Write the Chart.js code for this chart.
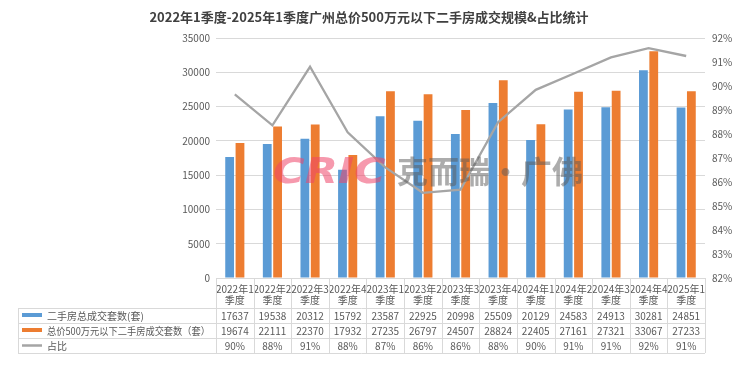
<!DOCTYPE html>
<html>
<head>
<meta charset="utf-8">
<script src="https://cdn.jsdelivr.net/npm/chart.js@4.4.0/dist/chart.umd.min.js"></script>
<style>
	html, body { margin: 0; padding: 0; background: #fff; }
</style>
</head>
<body>
<canvas id="salesChart" width="740" height="366"></canvas>
<script>
const categories = [
	"2022年1季度", "2022年2季度", "2022年3季度", "2022年4季度",
	"2023年1季度", "2023年2季度", "2023年3季度", "2023年4季度",
	"2024年1季度", "2024年2季度", "2024年3季度", "2024年4季度",
	"2025年1季度",
];
const totalDeals = [17637, 19538, 20312, 15792, 23587, 22925, 20998, 25509, 20129, 24583, 24913, 30281, 24851];
const under500Deals = [19674, 22111, 22370, 17932, 27235, 26797, 24507, 28824, 22405, 27161, 27321, 33067, 27233];
const shareRatio = [89.65, 88.36, 90.8, 88.07, 86.61, 85.55, 85.68, 88.49, 89.84, 90.51, 91.19, 91.58, 91.25];
const seriesNames = ["二手房总成交套数(套)", "总价500万元以下二手房成交套数（套）", "占比"];

const textColor = "#595959";
const lineColor = "#D9D9D9";
const fontFamily = '"Noto Sans CJK SC", "Noto Sans", sans-serif';

const tablePlugin = {
	id: "dataTable",
	afterDatasetsDraw(chart) {
		// watermark
		const ctx = chart.ctx;
		ctx.save();
		ctx.translate(273, 183);
		ctx.scale(1.2, 1);
		ctx.font = 'italic bold 36px "DejaVu Sans", sans-serif';
		ctx.fillStyle = "rgba(238, 70, 105, 0.55)";
		ctx.textBaseline = "alphabetic";
		ctx.fillText("CRIC", 0, 0);
		ctx.restore();
		ctx.save();
		ctx.font = "bold 31px " + fontFamily;
		ctx.fillStyle = "rgba(90, 90, 90, 0.5)";
		ctx.textBaseline = "alphabetic";
		ctx.fillText("克而瑞·广佛", 397, 183);
		ctx.restore();
	},
	afterDraw(chart) {
		const ctx = chart.ctx;
		const area = chart.chartArea;
		const x = chart.scales.x;
		const colW = (area.right - area.left) / categories.length;
		const rows = [308, 323, 338, 353];
		const legendLeft = 18;

		ctx.save();
		// title
		ctx.fillStyle = "#404040";
		ctx.font = "bold 13px " + fontFamily;
		ctx.textAlign = "center";
		ctx.textBaseline = "middle";
		ctx.fillText("2022年1季度-2025年1季度广州总价500万元以下二手房成交规模&占比统计", 369, 17);

		// grid of the table
		ctx.strokeStyle = lineColor;
		ctx.lineWidth = 1;
		ctx.beginPath();
		for (let i = 0; i <= categories.length; i++) {
			const px = Math.round(area.left + i * colW) + 0.5;
			ctx.moveTo(px, area.bottom);
			ctx.lineTo(px, rows[3]);
		}
		rows.forEach((r) => {
			ctx.moveTo(legendLeft, r + 0.5);
			ctx.lineTo(area.right, r + 0.5);
		});
		ctx.moveTo(legendLeft + 0.5, rows[0]);
		ctx.lineTo(legendLeft + 0.5, rows[3]);
		ctx.stroke();

		// legend keys
		ctx.fillStyle = "#5B9BD5";
		ctx.fillRect(22, 313, 20, 4);
		ctx.fillStyle = "#ED7D31";
		ctx.fillRect(22, 328, 20, 4);
		ctx.strokeStyle = "#A5A5A5";
		ctx.lineWidth = 2.5;
		ctx.beginPath();
		ctx.moveTo(22, 345.5);
		ctx.lineTo(42, 345.5);
		ctx.stroke();

		ctx.font = "10px " + fontFamily;
		ctx.fillStyle = textColor;
		ctx.textAlign = "left";
		seriesNames.forEach((name, i) => {
			ctx.fillText(name, 47, rows[i] + 8, 163);
		});

		ctx.textAlign = "center";
		categories.forEach((c, i) => {
			const cx = x.getPixelForValue(i);
			ctx.fillText(String(totalDeals[i]), cx, rows[0] + 8);
			ctx.fillText(String(under500Deals[i]), cx, rows[1] + 8);
			ctx.fillText(Math.round(shareRatio[i]) + "%", cx, rows[2] + 8);
		});
		ctx.restore();
	},
};

new Chart(document.getElementById("salesChart"), {
	type: "bar",
	data: {
		labels: categories,
		datasets: [
			{
				label: seriesNames[0],
				data: totalDeals,
				backgroundColor: "#5B9BD5",
				categoryPercentage: 0.55,
				barPercentage: 0.85,
				order: 2,
			},
			{
				label: seriesNames[1],
				data: under500Deals,
				backgroundColor: "#ED7D31",
				categoryPercentage: 0.55,
				barPercentage: 0.85,
				order: 2,
			},
			{
				type: "line",
				label: seriesNames[2],
				data: shareRatio,
				yAxisID: "y1",
				borderColor: "#A5A5A5",
				borderWidth: 2.3,
				pointRadius: 0,
				tension: 0,
				order: 1,
			},
		],
	},
	options: {
		responsive: false,
		devicePixelRatio: 1,
		animation: false,
		layout: {
			padding: { top: 38, bottom: 58, left: 0, right: 0 },
		},
		scales: {
			x: {
				grid: { display: false },
				border: { color: lineColor },
				ticks: {
					autoSkip: false,
					maxRotation: 0,
					minRotation: 0,
					padding: -3,
					color: textColor,
					font: { family: fontFamily, size: 10, lineHeight: 1.15 },
					callback(value) {
						const label = categories[value];
						return [label.slice(0, 6), label.slice(6)];
					},
				},
				afterFit(scale) {
					scale.height = 30;
				},
			},
			y: {
				position: "left",
				min: 0,
				max: 35000,
				ticks: {
					stepSize: 5000,
					padding: 6,
					color: textColor,
					font: { family: fontFamily, size: 10 },
					callback: (v) => String(v),
				},
				grid: { color: lineColor, drawTicks: false },
				border: { display: false },
				afterFit(scale) {
					scale.width = 216;
				},
			},
			y1: {
				position: "right",
				min: 82,
				max: 92,
				ticks: {
					stepSize: 1,
					padding: 7,
					color: textColor,
					font: { family: fontFamily, size: 10 },
					callback: (v) => v + "%",
				},
				grid: { display: false, drawTicks: false },
				border: { display: false },
				afterFit(scale) {
					scale.width = 35;
				},
			},
		},
		plugins: {
			legend: { display: false },
			tooltip: { enabled: false },
		},
	},
	plugins: [tablePlugin],
});
</script>
</body>
</html>
